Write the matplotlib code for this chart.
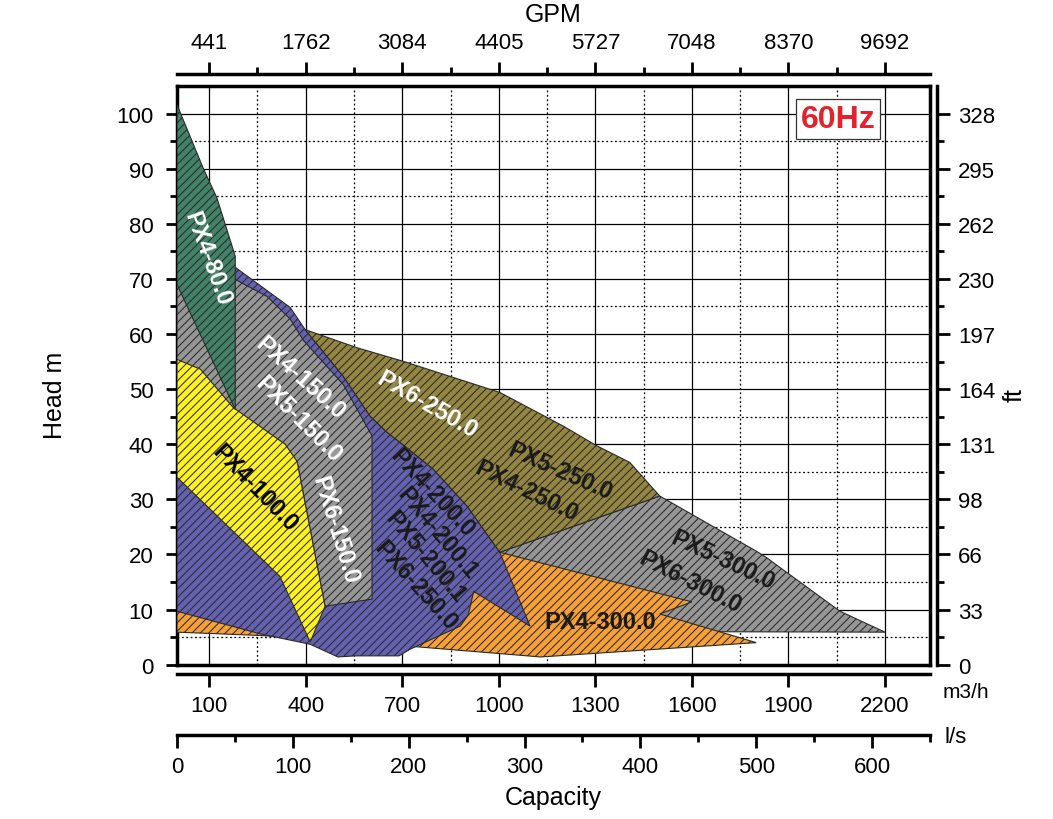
import matplotlib
matplotlib.use("Agg")
import matplotlib.pyplot as plt
from matplotlib.ticker import FixedLocator

plt.rcParams['font.family'] = ['Liberation Sans', 'DejaVu Sans']
plt.rcParams['hatch.linewidth'] = 0.75

# axis ticks and labels
m3h_ticks = [100, 400, 700, 1000, 1300, 1600, 1900, 2200]
m3h_minor = [250, 550, 850, 1150, 1450, 1750, 2050]
gpm_labels = ['441', '1762', '3084', '4405', '5727', '7048', '8370', '9692']
head_ticks = [0, 10, 20, 30, 40, 50, 60, 70, 80, 90, 100]
head_minor = [5, 15, 25, 35, 45, 55, 65, 75, 85, 95]
ft_labels = ['0', '33', '66', '98', '131', '164', '197', '230', '262', '295', '328']
ls_ticks = [0, 100, 200, 300, 400, 500, 600]
ls_minor = [50, 150, 250, 350, 450, 550, 650]

# pump ranges (m3/h, m)
px6_300_x = [1003, 1500, 1800, 1830, 2060, 2200, 1500]
px6_300_y = [20.4, 30.6, 20.6, 19.5, 9.7, 5.9, 6.0]

px4_300_x = [0, 1003, 1600, 1500, 1800, 1130, 734, 260, 0]
px4_300_y = [9.7, 20.4, 11.4, 9.2, 4.0, 1.4, 3.3, 5.3, 5.9]

px200_x = [0, 181, 352, 398, 517, 600, 652, 694, 796, 901, 1003, 1097, 922, 905, 880, 724,
           690, 553, 500, 414, 258, 0]
px200_y = [60, 72.1, 64.8, 60.8, 52.3, 45.1, 42.2, 40.3, 35.5, 28.8, 20.4, 7.0, 13.3, 9.0, 7.0, 2.8,
           1.6, 1.6, 1.4, 3.7, 5.6, 9.7]

px250_x = [398, 560, 700, 1003, 1200, 1305, 1407, 1500, 1003, 901, 796, 694, 652, 600, 517]
px250_y = [60.8, 57.5, 55.1, 49.4, 43.3, 39.7, 36.7, 30.6, 20.4, 28.8, 35.5, 40.3, 42.2, 45.1, 52.3]

px150_x = [0, 181, 280, 352, 392, 517, 606, 606, 460, 373, 0]
px150_y = [72, 69.9, 66.8, 62.7, 58.9, 50.8, 41.5, 11.9, 10.6, 36.9, 50]

px100_x = [0, 73, 174, 336, 373, 460, 414, 320, 0]
px100_y = [55.4, 53.6, 46.7, 40, 36.9, 10.6, 4.1, 16, 34]

px80_x = [0, 82, 124, 181, 181, 0]
px80_y = [101.6, 90, 84.7, 74.1, 46.3, 69]

fig = plt.figure(figsize=(10.53, 8.2), dpi=100)
ax = fig.add_axes([0.1681, 0.1882, 0.7151, 0.7057])
ax.set_xlim(0, 2340)
ax.set_ylim(0, 105)

polys = [
    (px6_300_x, px6_300_y, '#969696'),
    (px4_300_x, px4_300_y, '#f7a035'),
    (px200_x, px200_y, '#6461b0'),
    (px250_x, px250_y, '#948541'),
    (px150_x, px150_y, '#969696'),
    (px100_x, px100_y, '#fff21e'),
    (px80_x, px80_y, '#428266'),
]
for i, (xs, ys, c) in enumerate(polys):
    ax.fill(xs, ys, facecolor=c, edgecolor='#2a2a2a', hatch='////', linewidth=0.8, zorder=2 + i)

# grid
ax.set_xticks(m3h_ticks)
ax.xaxis.set_minor_locator(FixedLocator(m3h_minor))
ax.set_yticks(head_ticks)
ax.yaxis.set_minor_locator(FixedLocator(head_minor))
ax.set_axisbelow(True)
ax.grid(which='major', color='black', linewidth=0.9, linestyle='-')
ax.grid(which='minor', color='black', linewidth=0.9, linestyle=(0, (1.5, 2)))
ax.tick_params(axis='x', which='both', bottom=False, labelbottom=False)
ax.tick_params(axis='y', which='major', direction='out', length=8, width=2, labelsize=16, pad=9)
ax.tick_params(axis='y', which='minor', direction='out', length=5, width=2)
for s in ax.spines.values():
    s.set_linewidth(2.5)

# extra scales
top = ax.secondary_xaxis(1 + 12 / 578.7)
top.set_xticks(m3h_ticks, labels=gpm_labels)
top.xaxis.set_minor_locator(FixedLocator(m3h_minor))
top.set_xlabel('GPM', fontsize=18, labelpad=8)

bot = ax.secondary_xaxis(-9 / 578.7)
bot.set_xticks(m3h_ticks, labels=[str(v) for v in m3h_ticks])

ls = ax.secondary_xaxis(-70 / 578.7, functions=(lambda x: x / 3.6, lambda x: x * 3.6))
ls.set_xticks(ls_ticks, labels=[str(v) for v in ls_ticks])
ls.xaxis.set_minor_locator(FixedLocator(ls_minor))
ls.set_xlabel('Capacity', fontsize=18, labelpad=6)

ft = ax.secondary_yaxis(1 + 7 / 753)
ft.set_yticks(head_ticks, labels=ft_labels)
ft.yaxis.set_minor_locator(FixedLocator(head_minor))

for sa, axis in [(top, 'x'), (bot, 'x'), (ls, 'x'), (ft, 'y')]:
    sa.tick_params(axis=axis, which='major', direction='out', length=9, width=2, labelsize=16, pad=6)
    sa.tick_params(axis=axis, which='minor', direction='out', length=5, width=2)
    for s in sa.spines.values():
        s.set_linewidth(2.5)

fig.text(0.052, 0.518, 'Head m', rotation=90, ha='center', va='center', fontsize=18)
fig.text(0.964, 0.518, 'ft', rotation=90, ha='center', va='center', fontsize=18)
fig.text(0.895, 0.156, 'm3/h', ha='left', va='center', fontsize=15)
fig.text(0.897, 0.101, 'l/s', ha='left', va='center', fontsize=16)

# range labels
lab = dict(ha='center', va='center', fontsize=17, fontweight='bold',
           rotation_mode='anchor', zorder=20)
ax.text(95, 73.8, 'PX4-80.0', color='white', rotation=-70, **lab)
ax.text(382, 52.1, 'PX4-150.0', color='white', rotation=-42, **lab)
ax.text(377, 44.6, 'PX5-150.0', color='white', rotation=-45, **lab)
ax.text(491, 24.6, 'PX6-150.0', color='white', rotation=-73, **lab)
ax.text(243, 32.2, 'PX4-100.0', color='black', rotation=-46, **lab)
ax.text(777, 47.3, 'PX6-250.0', color='white', rotation=-30, **lab)
ax.text(1189, 35.1, 'PX5-250.0', color='#1a1a1a', rotation=-24, **lab)
ax.text(1087, 31.5, 'PX4-250.0', color='#1a1a1a', rotation=-26, **lab)
ax.text(792, 31.3, 'PX4-200.0', color='#1a1a1a', rotation=-47, **lab)
ax.text(808, 23.9, 'PX4-200.1', color='#1a1a1a', rotation=-50, **lab)
ax.text(772, 19.6, 'PX5-200.1', color='#1a1a1a', rotation=-50, **lab)
ax.text(742, 14.4, 'PX6-250.0', color='#1a1a1a', rotation=-48, **lab)
ax.text(1696, 19.1, 'PX5-300.0', color='#1a1a1a', rotation=-25, **lab)
ax.text(1593, 15.0, 'PX6-300.0', color='#1a1a1a', rotation=-27, **lab)
ax.text(1314, 7.9, 'PX4-300.0', color='#1a1a1a', rotation=0, **lab)

ax.text(0.878, 0.943, '60Hz', transform=ax.transAxes, ha='center', va='center', color='#e3222b',
        fontsize=23, fontweight='bold', zorder=20,
        bbox=dict(boxstyle='square,pad=0.15', facecolor='white', edgecolor='#333333', linewidth=0.9))

fig.savefig('out.png', dpi=100)
